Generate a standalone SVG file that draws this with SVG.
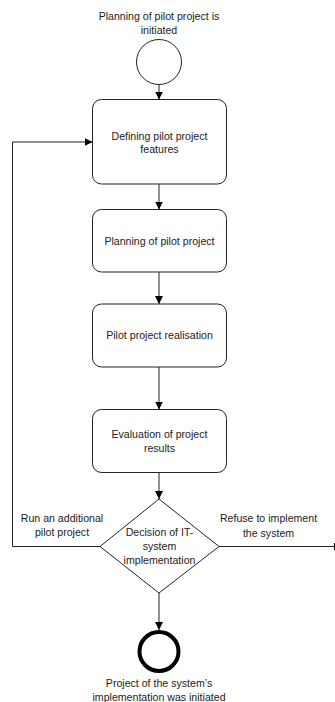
<svg xmlns="http://www.w3.org/2000/svg" width="335" height="702" viewBox="0 0 335 702">
<style>
text{font-family:"Liberation Sans",Arial,sans-serif;font-size:10.6px;fill:#222;text-anchor:middle}
.box{fill:#fff;stroke:#222;stroke-width:1}
.con{fill:none;stroke:#222;stroke-width:1}
</style>
<defs>
<marker id="ah" viewBox="0 0 10 10" refX="10" refY="5" markerWidth="8" markerHeight="8" markerUnits="userSpaceOnUse" orient="auto">
<path d="M0,0 L10,5 L0,10 Z" fill="#000"/>
</marker>
</defs>
<rect width="335" height="702" fill="#fff"/>
<g id="connectors">
<line class="con" x1="159" y1="84.5" x2="159" y2="99.5" marker-end="url(#ah)"/>
<line class="con" x1="159" y1="184" x2="159" y2="209.5" marker-end="url(#ah)"/>
<line class="con" x1="159" y1="272" x2="159" y2="304" marker-end="url(#ah)"/>
<line class="con" x1="159" y1="367" x2="159" y2="409.5" marker-end="url(#ah)"/>
<line class="con" x1="159" y1="472.5" x2="159" y2="499" marker-end="url(#ah)"/>
<line class="con" x1="159" y1="593" x2="159" y2="630" marker-end="url(#ah)"/>
<polyline class="con" points="100,546.5 12.5,546.5 12.5,142 92.5,142" marker-end="url(#ah)"/>
<line class="con" x1="219" y1="546.5" x2="342" y2="546.5" marker-end="url(#ah)"/>
</g>
<g id="start">
<circle cx="159" cy="62" r="22.5" fill="#fff" stroke="#222" stroke-width="1"/>
<text x="159" y="20">Planning of pilot project is</text>
<text x="159" y="34">initiated</text>
</g>
<g id="defining">
<rect class="box" x="92.5" y="99.5" width="134" height="84.5" rx="9"/>
<text x="159.5" y="139.5">Defining pilot project</text>
<text x="159.5" y="153">features</text>
</g>
<g id="planning">
<rect class="box" x="92.5" y="209.5" width="134" height="62.5" rx="9"/>
<text x="159.5" y="244.5">Planning of pilot project</text>
</g>
<g id="realisation">
<rect class="box" x="92.5" y="304" width="134" height="63" rx="9"/>
<text x="159.5" y="338.5">Pilot project realisation</text>
</g>
<g id="evaluation">
<rect class="box" x="92.5" y="409.5" width="134" height="63" rx="9"/>
<text x="159.5" y="438">Evaluation of project</text>
<text x="159.5" y="452">results</text>
</g>
<g id="decision">
<polygon class="box" points="159,499 219,546.5 159,593 100,546.5"/>
<text x="159.5" y="536">Decision of IT-</text>
<text x="159.5" y="550">system</text>
<text x="159.5" y="564">implementation</text>
</g>
<g id="end">
<circle cx="159" cy="651.5" r="19.5" fill="#fff" stroke="#000" stroke-width="4"/>
<text x="159" y="687">Project of the system’s</text>
<text x="159" y="700.5">implementation was initiated</text>
</g>
<g id="labels">
<text x="62" y="522">Run an additional</text>
<text x="62" y="536">pilot project</text>
<text x="268.5" y="522">Refuse to implement</text>
<text x="268.5" y="536.5">the system</text>
</g>
</svg>
